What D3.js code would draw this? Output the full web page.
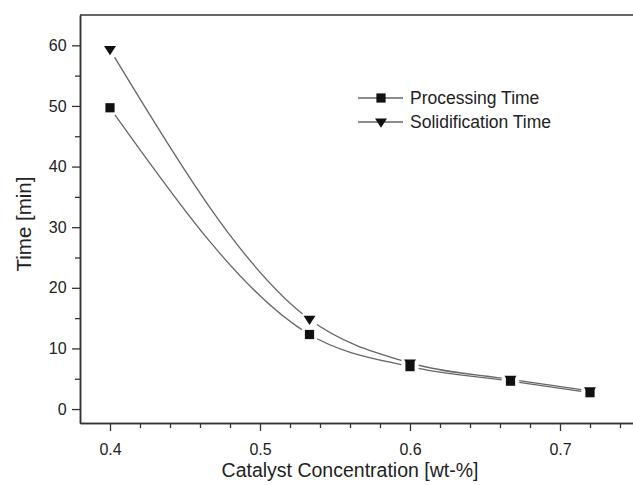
<!DOCTYPE html>
<html>
<head>
<meta charset="utf-8">
<script src="https://cdn.jsdelivr.net/npm/d3@7"></script>
<style>
  body { margin: 0; background: #fff; }
  text { font-family: "Liberation Sans", Arial, sans-serif; fill: #222; }
</style>
</head>
<body>
<div id="chart"></div>
<script>
// data
var concentration = [0.4, 0.533, 0.6, 0.667, 0.72];
var processingTime = [49.7, 12.3, 7.0, 4.6, 2.7];
var solidificationTime = [59.3, 14.8, 7.6, 4.9, 3.0];
var seriesNames = ["Processing Time", "Solidification Time"];
var xTicks = [0.4, 0.5, 0.6, 0.7];
var yTicks = [0, 10, 20, 30, 40, 50, 60];

var W = 633, H = 485;
var plotLeft = 80, plotTop = 15, plotBottom = 423, plotRight = 650;

var svg = d3.select("#chart").append("svg")
    .attr("width", W).attr("height", H);

var x = d3.scaleLinear().domain([0.38, 0.76]).range([plotLeft, plotRight]);
var y = d3.scaleLinear().domain([-2.3, 65]).range([plotBottom, plotTop]);

// axes ----------------------------------------------------------
var xAxis = svg.append("g").attr("transform", "translate(0," + plotBottom + ")")
    .call(d3.axisBottom(x).tickValues(xTicks).tickSize(8).tickSizeOuter(0)
        .tickFormat(d3.format(".1f")));
var xMinor = svg.append("g").attr("transform", "translate(0," + plotBottom + ")")
    .call(d3.axisBottom(x).tickValues(d3.range(0.4, 0.76, 0.02).filter(function(v) {
        return Math.abs(v * 10 - Math.round(v * 10)) > 1e-6; }))
        .tickSize(5).tickFormat("").tickSizeOuter(0));

var yAxis = svg.append("g").attr("transform", "translate(" + plotLeft + ",0)")
    .call(d3.axisLeft(y).tickValues(yTicks).tickSize(8).tickSizeOuter(0));
var yMinor = svg.append("g").attr("transform", "translate(" + plotLeft + ",0)")
    .call(d3.axisLeft(y).tickValues([5, 15, 25, 35, 45, 55]).tickSize(5)
        .tickFormat("").tickSizeOuter(0));

svg.selectAll(".domain").attr("stroke", "#333").attr("stroke-width", 1.5);
svg.selectAll(".tick line").attr("stroke", "#333").attr("stroke-width", 1.3);
xAxis.selectAll("text").attr("font-size", 16).attr("dy", "1.3em").attr("fill", "#222");
yAxis.selectAll("text").attr("font-size", 16).attr("dx", "-0.15em").attr("fill", "#222");

// top frame line
svg.append("line")
    .attr("x1", plotLeft).attr("x2", W).attr("y1", plotTop).attr("y2", plotTop)
    .attr("stroke", "#333").attr("stroke-width", 1.5);

// axis titles
svg.append("text")
    .attr("x", 350).attr("y", 477)
    .attr("text-anchor", "middle").attr("font-size", 19.5)
    .text("Catalyst Concentration [wt-%]");
svg.append("text")
    .attr("transform", "translate(31," + 224 + ") rotate(-90)")
    .attr("text-anchor", "middle").attr("font-size", 20.5)
    .text("Time [min]");

// curves with a small gap around each symbol ---------------------
var series = [processingTime, solidificationTime];
var line = d3.line()
    .x(function(d, i) { return x(concentration[i]); })
    .y(function(d) { return y(d); })
    .curve(d3.curveMonotoneX);

var defs = svg.append("defs");
series.forEach(function(vals, k) {
    var m = defs.append("mask").attr("id", "gap" + k)
        .attr("maskUnits", "userSpaceOnUse")
        .attr("x", 0).attr("y", 0).attr("width", W).attr("height", H);
    m.append("rect").attr("width", W).attr("height", H).attr("fill", "#fff");
    m.selectAll("circle").data(vals).enter().append("circle")
        .attr("cx", function(d, i) { return x(concentration[i]); })
        .attr("cy", function(d) { return y(d); })
        .attr("r", 9).attr("fill", "#000");
    svg.append("path")
        .attr("d", line(vals))
        .attr("fill", "none")
        .attr("stroke", "#666")
        .attr("stroke-width", 1.3)
        .attr("mask", "url(#gap" + k + ")");
});

// symbols
var sq = d3.symbol().type(d3.symbolSquare).size(85);
var tri = function(s) {
    return "M" + (-s) + "," + (-s * 0.6) + "L" + s + "," + (-s * 0.6) + "L0," + (s * 0.95) + "Z";
};
svg.selectAll(".tri").data(solidificationTime).enter().append("path")
    .attr("class", "tri")
    .attr("transform", function(d, i) { return "translate(" + x(concentration[i]) + "," + y(d) + ")"; })
    .attr("d", tri(6)).attr("fill", "#111");
svg.selectAll(".sq").data(processingTime).enter().append("path")
    .attr("class", "sq")
    .attr("transform", function(d, i) { return "translate(" + x(concentration[i]) + "," + y(d) + ")"; })
    .attr("d", sq).attr("fill", "#111");

// legend
var legend = svg.append("g").attr("transform", "translate(358,98)");
seriesNames.forEach(function(name, k) {
    var g = legend.append("g").attr("transform", "translate(0," + (k * 24) + ")");
    g.append("line").attr("x1", 0).attr("x2", 45).attr("y1", 0).attr("y2", 0)
        .attr("stroke", "#666").attr("stroke-width", 1.3);
    g.append("path").attr("transform", "translate(23,0)")
        .attr("d", k === 0 ? sq() : tri(6)).attr("fill", "#111");
    g.append("text").attr("x", 52).attr("y", 6).attr("font-size", 17.5).text(name);
});
</script>
</body>
</html>
